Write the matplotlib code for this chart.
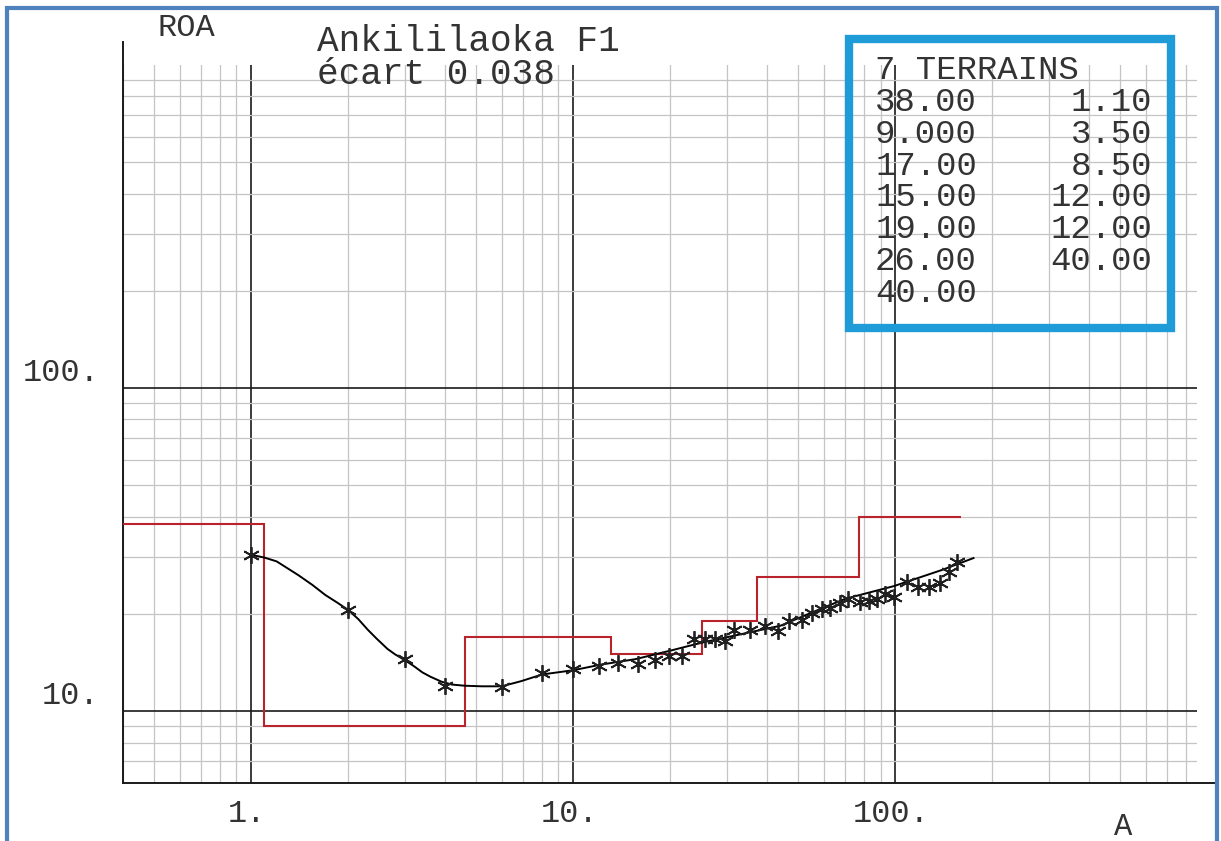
import numpy as np
import matplotlib
matplotlib.use("Agg")
import matplotlib.pyplot as plt
import matplotlib.transforms as mtransforms
from matplotlib.lines import Line2D
from matplotlib.patches import Rectangle

# Sounding data (AB/2 in m, apparent resistivity in ohm.m)
field_ab = [1.0, 2.0, 3.0, 4.0, 6.0, 8.0, 10.0, 12.0, 13.8, 15.9, 17.9, 19.8, 21.8,
            23.7, 25.6, 27.5, 29.5, 31.5, 35.5, 39.3, 43.2, 46.8, 51.4, 55.3, 59.4,
            62.9, 67.6, 71.2, 77.6, 82.8, 87.8, 93.2, 99.0, 108.4, 117.5, 127.0,
            138.0, 146.8, 156.0]
field_roa = [30.4, 20.6, 14.5, 12.0, 11.9, 13.1, 13.5, 13.8, 14.1, 14.05, 14.45, 14.8,
             14.8, 16.7, 16.7, 16.7, 16.5, 17.9, 17.8, 18.4, 17.7, 19.0, 19.2, 20.2,
             20.7, 20.9, 21.7, 22.2, 21.8, 21.9, 22.2, 23.0, 22.6, 25.1, 24.3, 24.3,
             25.0, 26.9, 29.0]

# Calculated curve of the model
model_ab = [1.0, 1.1, 1.2, 1.4, 1.55, 1.7, 1.85, 2.0, 2.15, 2.3, 2.45, 2.65, 2.8,
            3.0, 3.2, 3.4, 3.6, 3.9, 4.2, 4.6, 5.2, 6.0, 6.9, 8.0, 10.0, 12.2, 15.6,
            20.0, 25.0, 33.0, 44.0, 55.0, 70.0, 99.0, 140.0, 175.0]
model_roa = [30.5, 29.9, 29.1, 26.4, 24.6, 22.9, 21.7, 20.6, 19.3, 17.9, 16.8, 15.6,
             15.0, 14.4, 13.8, 13.2, 12.8, 12.35, 12.1, 12.0, 11.95, 11.95, 12.4,
             13.0, 13.4, 13.95, 14.5, 15.4, 16.3, 17.3, 18.4, 20.2, 22.3, 24.4, 27.4,
             29.8]

# Layered model: 7 terrains
layer_rho = [38.00, 9.000, 17.00, 15.00, 19.00, 26.00, 40.00]
layer_thick = [1.10, 3.50, 8.50, 12.00, 12.00, 40.00]
model_start = 0.4
model_end = 160.0

title = "Ankililaoka F1"
ecart = 0.038

x_ticks = [1, 10, 100]
x_tick_labels = ["1.", "10.", "100."]
y_ticks = [10, 100]
y_tick_labels = ["10.", "100."]

W, H = 1221, 841
fig = plt.figure(figsize=(W / 100, H / 100), dpi=100)
fig.patch.set_facecolor("white")

ax = fig.add_axes([123 / W, 58 / H, 1074 / W, 718 / H])
ax.set_xscale("log")
ax.set_yscale("log")
ax.set_xlim(0.4, 865)
ax.set_ylim(6, 1000)

# grid
ax.set_xticks(x_ticks)
ax.set_yticks(y_ticks)
ax.xaxis.set_minor_locator(matplotlib.ticker.LogLocator(base=10, subs=np.arange(2, 10)))
ax.yaxis.set_minor_locator(matplotlib.ticker.LogLocator(base=10, subs=np.arange(2, 10)))
ax.grid(True, which="minor", color="#c4c4c4", linewidth=0.9)
ax.grid(True, which="major", color="#1a1a1a", linewidth=1.2)
ax.tick_params(which="both", length=0, labelbottom=False, labelleft=False)
for s in ax.spines.values():
    s.set_visible(False)

# axis lines, extending past the grid like the original plot
ax.add_line(Line2D([0, 0], [0, 1 + 23 / 718], transform=ax.transAxes,
                   color="#1a1a1a", lw=1.4, clip_on=False))
ax.add_line(Line2D([0, 1 + 18 / 1074], [0, 0], transform=ax.transAxes,
                   color="#1a1a1a", lw=1.4, clip_on=False))

# model steps
edges = [model_start] + list(np.cumsum(layer_thick)) + [model_end]
ax.stairs(layer_rho, edges, baseline=None, color="#b8232c", lw=1.5, zorder=3)

# calculated curve and field points
ax.plot(model_ab, model_roa, color="black", lw=1.4, zorder=4)
ax.plot(field_ab, field_roa, linestyle="none", marker=(6, 2, 0), markersize=12,
        markeredgewidth=1.3, color="#202020", zorder=5)

mono = "Liberation Mono"
tc = "#333333"

# tick labels
xt = mtransforms.offset_copy(ax.get_xaxis_transform(), fig=fig, x=-4, y=0, units="dots")
for v, lab in zip(x_ticks, x_tick_labels):
    ax.text(v, -39 / 718, lab, transform=xt, ha="center", va="baseline",
            fontsize=23, family=mono, color=tc)
yt = mtransforms.offset_copy(ax.get_yaxis_transform(), fig=fig, x=0, y=7, units="dots")
for v, lab in zip(y_ticks, y_tick_labels):
    ax.text(-23 / 1074, v, lab, transform=yt, ha="right", va="baseline",
            fontsize=23, family=mono, color=tc)


def ftext(x, y, s, **kw):
    fig.text(x / W, 1 - y / H, s, family=mono, color=tc, va="baseline", **kw)


ftext(157, 36, "ROA", fontsize=23)
ftext(1123, 835, "A", fontsize=22, ha="center")
ftext(317, 51, title, fontsize=26)
ftext(317, 84, f"écart {ecart:.3f}", fontsize=26)

# layer table
ftext(875, 79, f"{len(layer_rho)} TERRAINS", fontsize=24.5)
for i, r in enumerate(layer_rho):
    ftext(875, 111 + 31.8 * i, f"{r:#.4g}", fontsize=24.5)
for i, t in enumerate(layer_thick):
    ftext(1152, 111 + 31.8 * i, f"{t:.2f}", fontsize=24.5, ha="right")

fig.patches.append(Rectangle((849 / W, 1 - 328 / H), 322 / W, 289 / H,
                             transform=fig.transFigure, fill=False,
                             edgecolor="#1f9bd7", lw=6))
# outer frame of the picture
fig.patches.append(Rectangle((7 / W, -0.02), 1210 / W, 1 - 8 / H + 0.02,
                             transform=fig.transFigure, fill=False,
                             edgecolor="#4f81bd", lw=3))

fig.savefig("out.png", dpi=100, facecolor="white")
